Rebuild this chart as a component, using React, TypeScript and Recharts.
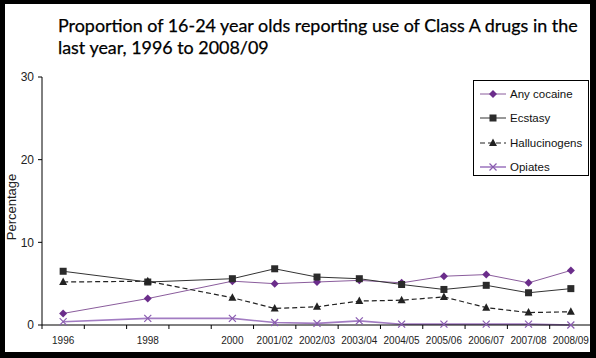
import React from "react"
import { LineChart, Line, XAxis, YAxis } from "recharts"

// survey periods (x position = years after 1996, so the gaps for 1997/1999 stay)
const SURVEYS = ["1996", "1998", "2000", "2001/02", "2002/03", "2003/04", "2004/05", "2005/06", "2006/07", "2007/08", "2008/09"]

const COCAINE = [1.4, 3.2, 5.3, 5.0, 5.2, 5.4, 5.1, 5.9, 6.1, 5.1, 6.6]
const ECSTASY = [6.5, 5.2, 5.6, 6.8, 5.8, 5.6, 4.9, 4.3, 4.8, 3.9, 4.4]
const HALLUCINOGENS = [5.2, 5.3, 3.3, 2.0, 2.2, 2.9, 3.0, 3.4, 2.1, 1.5, 1.6]
const OPIATES = [0.4, 0.8, 0.8, 0.3, 0.2, 0.5, 0.1, 0.1, 0.1, 0.1, 0.0]

const Y_TICKS = [0, 10, 20, 30]

const SERIES = [
  { key: "cocaine", name: "Any cocaine", values: COCAINE, stroke: "#8a5c9c", fill: "#6b2d8b", width: 1, dash: undefined, shape: "diamond" },
  { key: "ecstasy", name: "Ecstasy", values: ECSTASY, stroke: "#333333", fill: "#2b2b2b", width: 1, dash: undefined, shape: "square" },
  { key: "halluc", name: "Hallucinogens", values: HALLUCINOGENS, stroke: "#222222", fill: "#222222", width: 1.2, dash: "5 3", shape: "triangle" },
  { key: "opiates", name: "Opiates", values: OPIATES, stroke: "#a27cc2", fill: "#8a5cb0", width: 1.6, dash: undefined, shape: "cross" },
]

const W = 596
const H = 358
const MARGIN = { top: 77, right: 4, bottom: 3, left: 0 }
const Y_AXIS_W = 42
const SLOTS = 13
const BAND = (W - MARGIN.left - MARGIN.right - Y_AXIS_W) / SLOTS

const slotOf = (label: string) => parseInt(label, 10) - 1996

const data = SURVEYS.map((label, i) => {
  const row: Record<string, any> = { label, x: slotOf(label) }
  SERIES.forEach((s) => (row[s.key] = s.values[i]))
  return row
})

// tick marks sit on the slot boundaries, labels in the middle of the slot
const BOUNDARIES = Array.from({ length: SLOTS + 1 }, (_, i) => i - 0.5)

const font = "'Liberation Sans', Arial, sans-serif"

function XTick(props: any) {
  const { x, y, payload } = props
  const label = SURVEYS.find((s) => slotOf(s) === payload.value + 0.5)
  if (!label) return <g />
  return (
    <text x={x + BAND / 2} y={y} dy="0.71em" textAnchor="middle" fontSize={10} fill="#222" fontFamily={font}>
      {label}
    </text>
  )
}

function YLabel() {
  return (
    <text
      x={16}
      y={207}
      transform="rotate(-90, 16, 207)"
      textAnchor="middle"
      fontSize={13}
      fill="#222"
      fontFamily={font}
    >
      Percentage
    </text>
  )
}

function Marker({ shape, cx, cy, color }: { shape: string; cx: number; cy: number; color: string }) {
  if (shape === "diamond")
    return <polygon points={`${cx},${cy - 4} ${cx + 4},${cy} ${cx},${cy + 4} ${cx - 4},${cy}`} fill={color} />
  if (shape === "square") return <rect x={cx - 3.5} y={cy - 3.5} width={7} height={7} fill={color} />
  if (shape === "triangle")
    return <polygon points={`${cx},${cy - 4.5} ${cx + 4},${cy + 3} ${cx - 4},${cy + 3}`} fill={color} />
  return (
    <g stroke={color} strokeWidth={1.2}>
      <line x1={cx - 3.5} y1={cy - 3.5} x2={cx + 3.5} y2={cy + 3.5} />
      <line x1={cx - 3.5} y1={cy + 3.5} x2={cx + 3.5} y2={cy - 3.5} />
    </g>
  )
}

const makeDot = (shape: string, color: string) => (props: any) => {
  const { cx, cy, index } = props
  if (cx == null || cy == null) return <g key={`d-${index}`} />
  return (
    <g key={`d-${shape}-${index}`}>
      <Marker shape={shape} cx={cx} cy={cy} color={color} />
    </g>
  )
}

function ChartLegend() {
  return (
    <div
      style={{
        position: "absolute",
        left: 473,
        top: 80,
        width: 114,
        height: 94,
        border: "1px solid #000",
        background: "#fff",
        fontFamily: font,
        fontSize: 11.5,
        color: "#111",
      }}
    >
      {SERIES.map((s, i) => (
        <div key={s.key} style={{ position: "absolute", left: 6, top: 4 + i * 24.3, height: 18, display: "flex", alignItems: "center" }}>
          <svg width={28} height={18}>
            <line x1={0} y1={9} x2={26} y2={9} stroke={s.stroke} strokeWidth={s.width} strokeDasharray={s.dash} />
            <Marker shape={s.shape} cx={13} cy={9} color={s.fill} />
          </svg>
          <span style={{ marginLeft: 2 }}>{s.name}</span>
        </div>
      ))}
    </div>
  )
}

export default function App() {
  return (
    <div style={{ position: "absolute", left: 0, top: 0, width: W, height: H, background: "#000" }}>
      <div style={{ position: "absolute", left: 5, top: 4, width: 585, height: 348, background: "#fff", overflow: "hidden" }}>
        <div style={{ position: "absolute", left: -5, top: -4, width: W, height: H }}>
          <div
            style={{
              position: "absolute",
              left: 58,
              top: 14,
              width: 532,
              fontFamily: "Lato, 'Open Sans', sans-serif",
              fontSize: 17.9,
              lineHeight: "22px",
              color: "#000",
              WebkitTextStroke: "0.25px #000",
            }}
          >
            Proportion of 16-24 year olds reporting use of Class A drugs in the last year, 1996 to 2008/09
          </div>
          <div style={{ position: "absolute", left: 0, top: 0 }}>
            <LineChart width={W} height={H} data={data} margin={MARGIN}>
              <XAxis
                dataKey="x"
                type="number"
                domain={[-0.5, SLOTS - 0.5]}
                ticks={BOUNDARIES}
                interval={0}
                tick={<XTick />}
                tickSize={4}
                tickMargin={8}
                height={30}
                stroke="#000"
                allowDataOverflow
              />
              <YAxis
                domain={[0, 30]}
                ticks={Y_TICKS}
                width={Y_AXIS_W}
                tickSize={4}
                tickMargin={4}
                stroke="#000"
                tick={{ fontSize: 12, fill: "#222", fontFamily: font }}
                label={<YLabel />}
              />
              {SERIES.map((s) => (
                <Line
                  key={s.key}
                  dataKey={s.key}
                  name={s.name}
                  stroke={s.stroke}
                  strokeWidth={s.width}
                  strokeDasharray={s.dash}
                  dot={makeDot(s.shape, s.fill)}
                  activeDot={false}
                  isAnimationActive={false}
                />
              ))}
            </LineChart>
          </div>
          <ChartLegend />
        </div>
      </div>
    </div>
  )
}
